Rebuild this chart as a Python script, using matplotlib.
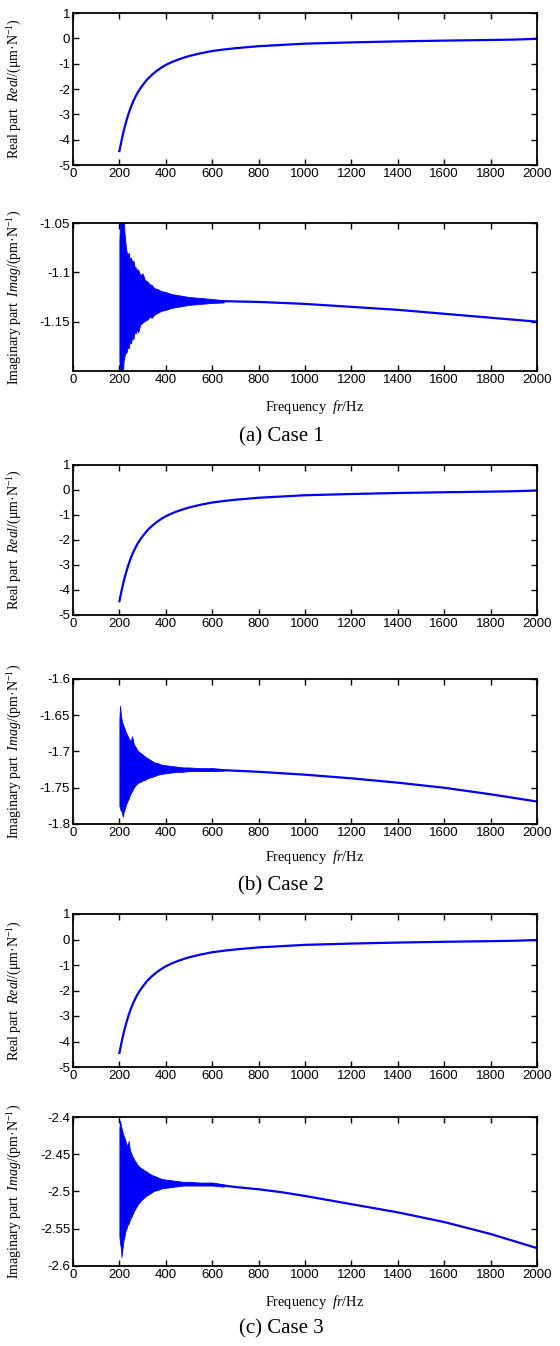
import matplotlib
matplotlib.use('Agg')
import matplotlib.pyplot as plt

plt.rcParams['axes.unicode_minus'] = False
plt.rcParams['mathtext.fontset'] = 'custom'
plt.rcParams['mathtext.rm'] = 'Liberation Serif'
plt.rcParams['mathtext.it'] = 'Liberation Serif:italic'

# real part (same for all cases)
real_f = [200, 210, 220, 230, 240, 250, 260, 270, 280, 290, 300, 320, 340, 360, 380, 400,
          425, 450, 475, 500, 550, 600, 650, 700, 800, 900, 1000, 1200, 1400, 1600, 1800,
          1900, 2000]
real_v = [-4.45, -4.0, -3.6, -3.26, -2.96, -2.7, -2.48, -2.29, -2.12, -1.98, -1.85, -1.62,
          -1.44, -1.29, -1.16, -1.05, -0.94, -0.85, -0.77, -0.70, -0.59, -0.50, -0.44, -0.39,
          -0.31, -0.26, -0.21, -0.16, -0.12, -0.09, -0.065, -0.05, -0.02]

# imaginary part, case 1: oscillation envelope + trend
env1_f = [200, 203, 206, 209, 212, 215, 218, 222, 226, 230, 235, 240, 245, 250, 255, 260,
          265, 270, 275, 280, 290, 300, 310, 320, 330, 340, 350, 365, 380, 400, 425, 450,
          475, 500, 550, 600, 650]
env1_hi = [-1.067, -1.045, -1.04, -1.04, -1.045, -1.04, -1.045, -1.06, -1.07, -1.078,
           -1.083, -1.08, -1.087, -1.085, -1.09, -1.088, -1.094, -1.095, -1.098, -1.097,
           -1.103, -1.101, -1.108, -1.109, -1.112, -1.113, -1.116, -1.117, -1.119, -1.12,
           -1.122, -1.123, -1.124, -1.125, -1.126, -1.127, -1.1285]
env1_lo = [-1.19, -1.21, -1.21, -1.21, -1.21, -1.205, -1.19, -1.185, -1.18, -1.182,
           -1.176, -1.177, -1.17, -1.172, -1.165, -1.168, -1.16, -1.162, -1.157, -1.161,
           -1.153, -1.151, -1.149, -1.148, -1.145, -1.146, -1.143, -1.141, -1.139, -1.138,
           -1.136, -1.135, -1.134, -1.133, -1.132, -1.131, -1.1305]
trend1_f = [600, 800, 900, 1000, 1200, 1400, 1600, 1800, 2000]
trend1_v = [-1.129, -1.130, -1.131, -1.132, -1.135, -1.138, -1.142, -1.146, -1.150]

# case 2
env2_f = [200, 203, 206, 209, 212, 215, 218, 222, 226, 230, 235, 240, 245, 250, 254, 258,
          262, 266, 270, 275, 280, 290, 300, 310, 320, 330, 340, 350, 365, 380, 400, 425,
          450, 475, 500, 550, 600, 650]
env2_hi = [-1.655, -1.637, -1.648, -1.655, -1.66, -1.662, -1.665, -1.668, -1.672, -1.675,
           -1.678, -1.682, -1.684, -1.686, -1.679, -1.683, -1.69, -1.692, -1.694, -1.697,
           -1.699, -1.702, -1.704, -1.707, -1.709, -1.711, -1.713, -1.715, -1.716, -1.718,
           -1.719, -1.72, -1.721, -1.722, -1.722, -1.723, -1.723, -1.7245]
env2_lo = [-1.775, -1.778, -1.782, -1.78, -1.786, -1.79, -1.784, -1.78, -1.776, -1.772,
           -1.768, -1.765, -1.76, -1.757, -1.755, -1.752, -1.75, -1.748, -1.746, -1.745,
           -1.743, -1.742, -1.74, -1.739, -1.737, -1.736, -1.735, -1.734, -1.732, -1.731,
           -1.730, -1.729, -1.728, -1.728, -1.727, -1.727, -1.727, -1.7265]
trend2_f = [600, 800, 1000, 1200, 1400, 1600, 1800, 2000]
trend2_v = [-1.725, -1.728, -1.732, -1.737, -1.743, -1.750, -1.759, -1.769]

# case 3
env3_f = [200, 203, 206, 209, 212, 215, 218, 222, 226, 230, 235, 240, 245, 250, 255, 260,
          265, 270, 275, 280, 290, 300, 310, 320, 330, 340, 350, 365, 380, 400, 425, 450,
          475, 500, 550, 600, 650]
env3_hi = [-2.415, -2.405, -2.41, -2.415, -2.418, -2.422, -2.425, -2.428, -2.432, -2.436,
           -2.44, -2.432, -2.444, -2.448, -2.452, -2.455, -2.458, -2.46, -2.463, -2.465,
           -2.468, -2.47, -2.472, -2.474, -2.476, -2.478, -2.479, -2.481, -2.483, -2.484,
           -2.485, -2.486, -2.487, -2.487, -2.488, -2.488, -2.4905]
env3_lo = [-2.56, -2.57, -2.575, -2.588, -2.58, -2.572, -2.565, -2.56, -2.553, -2.55,
           -2.545, -2.543, -2.538, -2.535, -2.532, -2.528, -2.525, -2.522, -2.52, -2.517,
           -2.513, -2.51, -2.507, -2.505, -2.503, -2.501, -2.499, -2.498, -2.496, -2.495,
           -2.494, -2.493, -2.492, -2.492, -2.492, -2.492, -2.4935]
trend3_f = [600, 700, 800, 900, 1000, 1200, 1400, 1600, 1800, 2000]
trend3_v = [-2.490, -2.494, -2.497, -2.501, -2.506, -2.517, -2.528, -2.541, -2.557, -2.576]

cases = [
    ('(a) Case 1', env1_f, env1_hi, env1_lo, trend1_f, trend1_v, (-1.2, -1.05),
     [-1.15, -1.1, -1.05], ['-1.15', '-1.1', '-1.05']),
    ('(b) Case 2', env2_f, env2_hi, env2_lo, trend2_f, trend2_v, (-1.8, -1.6),
     [-1.8, -1.75, -1.7, -1.65, -1.6], ['-1.8', '-1.75', '-1.7', '-1.65', '-1.6']),
    ('(c) Case 3', env3_f, env3_hi, env3_lo, trend3_f, trend3_v, (-2.6, -2.4),
     [-2.6, -2.55, -2.5, -2.45, -2.4], ['-2.6', '-2.55', '-2.5', '-2.45', '-2.4']),
]

# axes boxes in pixels: (top, bottom) for real and imag panels
W, H = 560, 1346
boxes = [((13, 165), (223, 371)), ((465, 615), (679, 824)), ((914, 1067), (1117, 1266))]
xlabel_top = [398, 848, 1293]
caption_y = [437, 886, 1329]
left, right = 73, 537

fig = plt.figure(figsize=(W / 100, H / 100), dpi=100)
blue = '#0000ff'
serif = 'Liberation Serif'
sans = 'Liberation Sans'
xt = list(range(0, 2001, 200))


def style(ax):
    ax.tick_params(direction='in', top=True, right=True, length=4, width=1,
                   labelsize=9.5, pad=2)
    for s in ax.spines.values():
        s.set_linewidth(1.3)
    ax.set_xlim(0, 2000)
    ax.set_xticks(xt)
    ax.set_xticklabels([str(v) for v in xt], fontfamily=sans)


for i, (cap, ef, ehi, elo, tf, tv, ylim, yt, ytl) in enumerate(cases):
    (rt, rb), (it, ib) = boxes[i]
    ax1 = fig.add_axes([left / W, 1 - rb / H, (right - left) / W, (rb - rt) / H])
    ax1.plot(real_f, real_v, color=blue, lw=1.6)
    ax1.set_ylim(-5, 1)
    style(ax1)
    ax1.set_yticks(range(-5, 2))
    ax1.set_yticklabels([str(v) for v in range(-5, 2)], fontfamily=sans)
    ax1.set_ylabel(r'Real part  $\mathit{Real}$/(μm·N$^{-1}$)', fontfamily=serif, fontsize=10)
    ax1.yaxis.set_label_coords((24 - left) / (right - left), 0.5)

    ax2 = fig.add_axes([left / W, 1 - ib / H, (right - left) / W, (ib - it) / H])
    ax2.fill_between(ef, elo, ehi, color=blue, lw=0.6, edgecolor=blue)
    ax2.plot(tf, tv, color=blue, lw=1.6)
    ax2.set_ylim(*ylim)
    style(ax2)
    ax2.set_yticks(yt)
    ax2.set_yticklabels(ytl, fontfamily=sans)
    ax2.set_ylabel(r'Imaginary part  $\mathit{Imag}$/(pm·N$^{-1}$)', fontfamily=serif,
                   fontsize=10)
    ax2.yaxis.set_label_coords((24 - left) / (right - left), 0.5)
    ax2.set_xlabel(r'Frequency  $\mathit{fr}$/Hz', fontfamily=serif, fontsize=10.3)
    ax2.xaxis.set_label_coords((314 - left) / (right - left),
                               -(xlabel_top[i] - ib) / (ib - it))

    fig.text(281 / W, 1 - caption_y[i] / H, cap, ha='center', va='center',
             fontfamily=serif, fontsize=15)

fig.savefig('out.png', dpi=100)
